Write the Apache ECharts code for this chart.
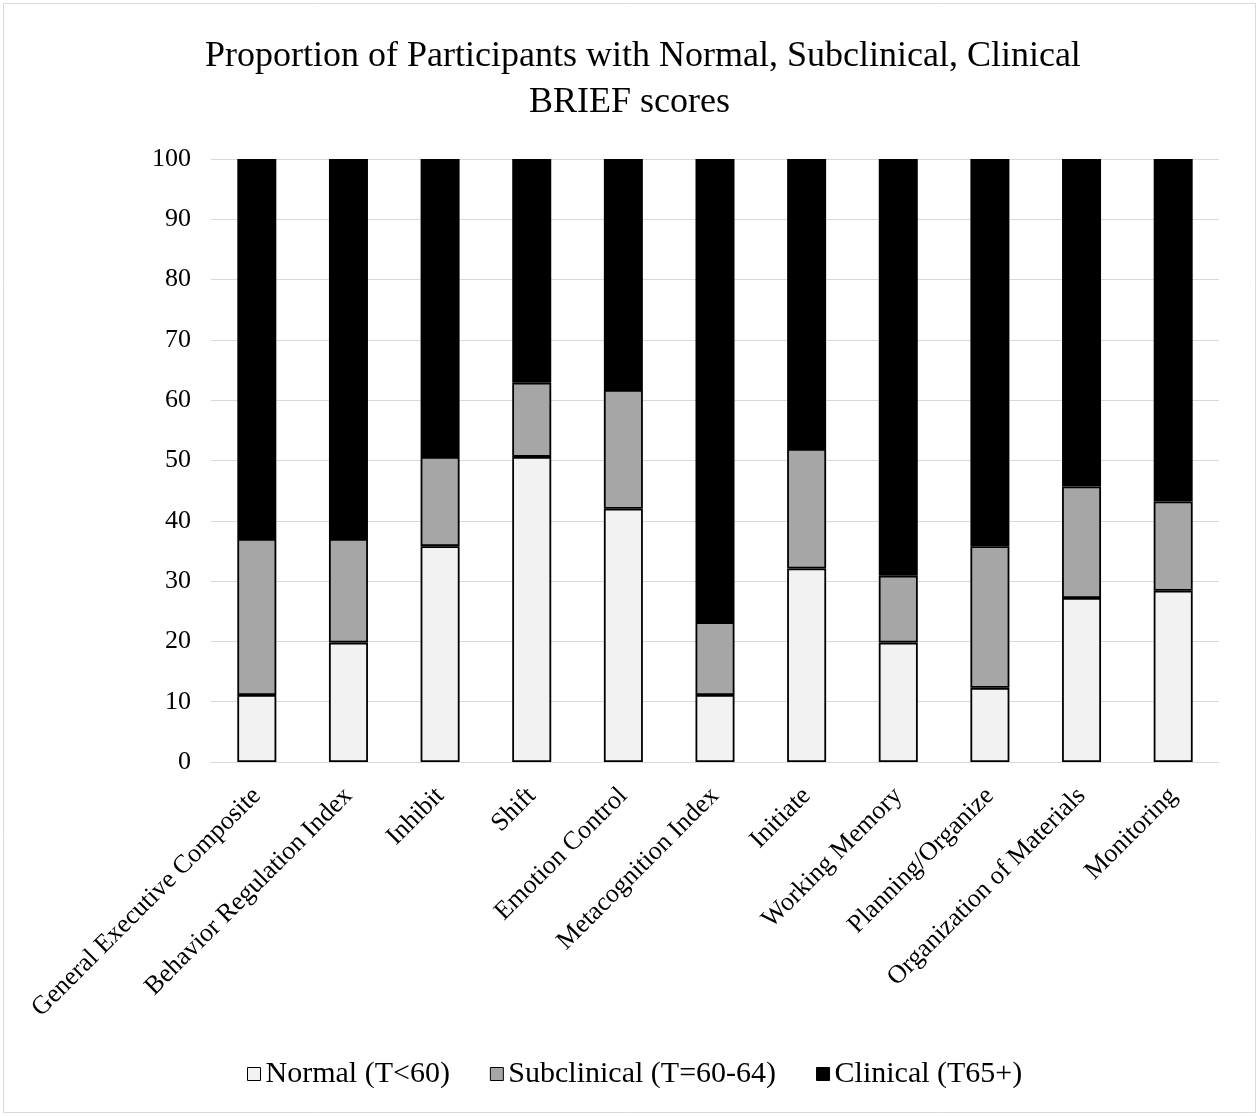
<!DOCTYPE html>
<html>
<head>
<meta charset="utf-8">
<script src="https://cdn.jsdelivr.net/npm/echarts@6/dist/echarts.min.js"></script>
<style>
  html, body { margin: 0; padding: 0; background: #ffffff; }
  #chart { width: 1259px; height: 1116px; }
</style>
</head>
<body>
<div id="chart"></div>
<script>
// BRIEF scale categories
const categories = [
  'General Executive Composite', 'Behavior Regulation Index', 'Inhibit', 'Shift',
  'Emotion Control', 'Metacognition Index', 'Initiate', 'Working Memory',
  'Planning/Organize', 'Organization of Materials', 'Monitoring'
];

// Percent of participants in each score band
const normal      = [11.1, 19.8, 35.8, 50.6, 42.0, 11.1, 32.1, 19.8, 12.3, 27.2, 28.4];
const subclinical = [25.9, 17.2, 14.8, 12.3, 19.7, 12.1, 19.8, 11.1, 23.5, 18.5, 14.8];
const clinical    = [63.0, 63.0, 49.4, 37.1, 38.3, 76.8, 48.1, 69.1, 64.2, 54.3, 56.8];

const seriesNames = ['Normal (T<60)', 'Subclinical (T=60-64)', 'Clinical (T65+)'];
const yTicks = { min: 0, max: 100, interval: 10 };

const serif = '"Liberation Serif", "DejaVu Serif", serif';

const chart = echarts.init(document.getElementById('chart'), null, { renderer: 'canvas' });

function bar(name, data, color) {
  return {
    name: name,
    type: 'bar',
    stack: 'total',
    data: data,
    barWidth: 39,
    itemStyle: { color: color, borderColor: '#000000', borderWidth: 1.8 },
    emphasis: { disabled: true }
  };
}

const titleFont = {
  fontFamily: serif,
  fontSize: 36,
  fontWeight: 'normal',
  color: '#000000'
};

chart.setOption({
  animation: false,
  backgroundColor: '#ffffff',
  graphic: [{
    type: 'rect',
    shape: { x: 3.5, y: 3.5, width: 1252, height: 1109 },
    style: { fill: 'none', stroke: '#d9d9d9', lineWidth: 1 },
    silent: true
  }],
  title: [
    {
      text: 'Proportion of Participants with Normal, Subclinical, Clinical',
      left: 200,
      top: 34,
      textStyle: titleFont
    },
    {
      text: 'BRIEF scores',
      left: 'center',
      top: 80,
      textStyle: titleFont
    }
  ],
  legend: {
    top: 1054,
    left: 242,
    icon: 'rect',
    itemWidth: 13,
    itemHeight: 13,
    itemGap: 40,
    itemStyle: { borderColor: '#000000', borderWidth: 1 },
    textStyle: { fontFamily: serif, fontSize: 30, color: '#000000' },
    data: seriesNames
  },
  grid: {
    left: 211,
    right: 40,
    top: 159,
    bottom: 354,
    containLabel: false
  },
  xAxis: {
    type: 'category',
    data: categories,
    axisLine: { show: true, lineStyle: { color: '#d9d9d9', width: 1 } },
    axisTick: { show: false },
    axisLabel: {
      rotate: 45,
      interval: 0,
      margin: 30,
      fontFamily: serif,
      fontSize: 26,
      color: '#000000'
    }
  },
  yAxis: {
    type: 'value',
    min: yTicks.min,
    max: yTicks.max,
    interval: yTicks.interval,
    axisLine: { show: false },
    axisTick: { show: false },
    splitLine: { lineStyle: { color: '#d9d9d9', width: 1 } },
    axisLabel: {
      margin: 20,
      fontFamily: serif,
      fontSize: 26,
      color: '#000000'
    }
  },
  series: [
    bar(seriesNames[0], normal, '#f2f2f2'),
    bar(seriesNames[1], subclinical, '#a6a6a6'),
    bar(seriesNames[2], clinical, '#000000')
  ]
});
</script>
</body>
</html>
